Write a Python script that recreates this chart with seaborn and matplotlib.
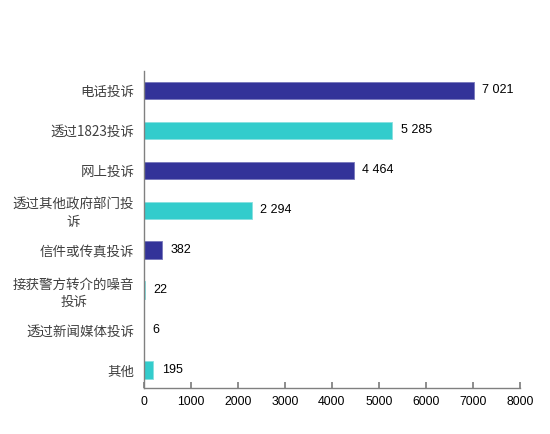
import matplotlib
matplotlib.use("Agg")
import matplotlib.pyplot as plt
import seaborn as sns
import pandas as pd

categories = ["电话投诉", "透过1823投诉", "网上投诉", "透过其他政府部门投\n诉",
              "信件或传真投诉", "接获警方转介的噪音\n投诉", "透过新闻媒体投诉", "其他"]
values = [7021, 5285, 4464, 2294, 382, 22, 6, 195]
value_labels = ["7 021", "5 285", "4 464", "2 294", "382", "22", "6", "195"]
colors = ["#333399", "#33CCCC", "#333399", "#33CCCC", "#333399", "#33CCCC", "#333399", "#33CCCC"]
edge_colors = ["#7777BB", "#88E0E0", "#7777BB", "#88E0E0", "#7777BB", "#88E0E0", "#7777BB", "#88E0E0"]
x_ticks = [0, 1000, 2000, 3000, 4000, 5000, 6000, 7000, 8000]

sns.set_theme(style="white")
plt.rcParams['font.family'] = ['Noto Sans CJK SC', 'DejaVu Sans']

df = pd.DataFrame({"cat": categories, "val": values})

fig = plt.figure(figsize=(5.5, 4.34), dpi=100)
ax = fig.add_axes([0.262, 0.106, 0.683, 0.730])
sns.barplot(data=df, x="val", y="cat", hue="cat", palette=colors, orient="h",
            width=0.43, legend=False, ax=ax, saturation=1)
for p, ec in zip(ax.patches, edge_colors):
    p.set_edgecolor(ec)
    p.set_linewidth(0.6)

for i, (v, lab) in enumerate(zip(values, value_labels)):
    ax.annotate(lab, xy=(v, i), xytext=(6, 0), textcoords="offset points",
                ha="left", va="center", fontsize=9, color="black",
                family=["Liberation Sans", "DejaVu Sans"])

ax.set_xlim(0, 8000)
ax.set_ylim(7.45, -0.475)
ax.set_xticks(x_ticks)
ax.set_xticklabels([str(t) for t in x_ticks], family=["Liberation Sans", "DejaVu Sans"],
                   fontsize=8.8, color="black")
ax.set_yticks(range(len(categories)))
ax.set_yticklabels(categories, fontsize=9.7, color="#404040", multialignment="center",
                   linespacing=1.3)
ax.set_xlabel("")
ax.set_ylabel("")

for s in ["top", "right"]:
    ax.spines[s].set_visible(False)
for s in ["left", "bottom"]:
    ax.spines[s].set_color("#808080")
    ax.spines[s].set_linewidth(1.0)

ax.tick_params(axis="x", direction="in", length=4, color="#808080", pad=6, bottom=True)
ax.tick_params(axis="y", length=0, pad=7)

fig.savefig("out.png", dpi=100)
